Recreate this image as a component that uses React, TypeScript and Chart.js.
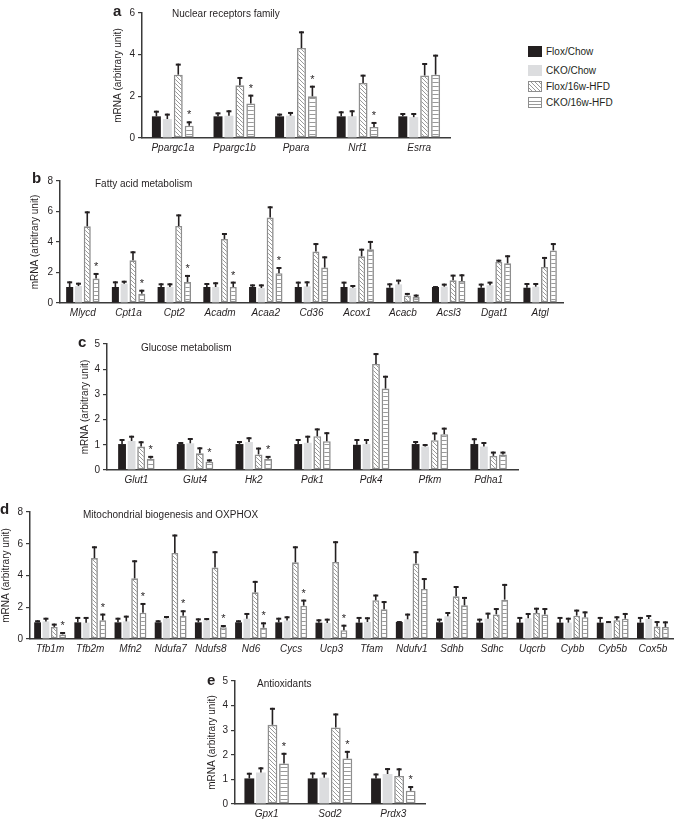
import React, { useEffect, useRef } from "react";
import { Chart, registerables } from "chart.js";
Chart.register(...registerables);

const FONT = '"Liberation Sans", Arial, Helvetica, sans-serif';
const INK = "#231f20";
const AXIS = "#3a3a3a";
const GRAY_FILL = "#dcdddf";
const PAT_GRAY = "#8e8e8e";
const LINE_GRAY = "#9a9a9a";

const seriesLabels = ["Flox/Chow", "CKO/Chow", "Flox/16w-HFD", "CKO/16w-HFD"];
const yAxisTitle = "mRNA (arbitrary unit)";

// ---- Panel a: Nuclear receptors family
const aCategories = ["Ppargc1a", "Ppargc1b", "Ppara", "Nrf1", "Esrra"];
const aFloxChow = [1.04, 1.04, 1.04, 1.04, 1.04];
const aFloxChowSem = [0.27, 0.19, 0.13, 0.24, 0.16];
const aCkoChow = [0.91, 1.07, 1.07, 1.05, 1.0];
const aCkoChowSem = [0.26, 0.26, 0.18, 0.28, 0.2];
const aFloxHfd = [3.04, 2.53, 4.32, 2.64, 3.0];
const aFloxHfdSem = [0.53, 0.4, 0.8, 0.4, 0.6];
const aCkoHfd = [0.59, 1.66, 2.0, 0.53, 3.04];
const aCkoHfdSem = [0.21, 0.42, 0.51, 0.24, 0.96];
const aStars = [1, 1, 1, 1, 0];

// ---- Panel b: Fatty acid metabolism
const bCategories = ["Mlycd", "Cpt1a", "Cpt2", "Acadm", "Acaa2", "Cd36", "Acox1", "Acacb", "Acsl3", "Dgat1", "Atgl"];
const bFloxChow = [1.05, 1.05, 1.05, 1.05, 1.05, 1.05, 1.05, 1.0, 1.05, 1.0, 1.0];
const bFloxChowSem = [0.37, 0.37, 0.24, 0.26, 0.17, 0.35, 0.35, 0.29, 0.06, 0.27, 0.31];
const bCkoChow = [1.11, 1.27, 1.05, 1.05, 0.98, 1.09, 1.0, 1.22, 1.07, 1.16, 1.07];
const bCkoChowSem = [0.22, 0.19, 0.24, 0.31, 0.24, 0.33, 0.18, 0.31, 0.2, 0.24, 0.24];
const bFloxHfd = [5.03, 2.8, 5.05, 4.2, 5.6, 3.37, 3.06, 0.5, 1.49, 2.69, 2.36];
const bFloxHfdSem = [0.98, 0.59, 0.76, 0.39, 0.74, 0.56, 0.5, 0.16, 0.37, 0.15, 0.66];
const bCkoHfd = [1.6, 0.61, 1.38, 1.05, 1.95, 2.32, 3.52, 0.39, 1.44, 2.6, 3.45];
const bCkoHfdSem = [0.37, 0.26, 0.46, 0.35, 0.41, 0.74, 0.55, 0.16, 0.44, 0.53, 0.48];
const bStars = [1, 1, 1, 1, 1, 0, 0, 0, 0, 0, 0];

// ---- Panel c: Glucose metabolism
const cCategories = ["Glut1", "Glut4", "Hk2", "Pdk1", "Pdk4", "Pfkm", "Pdha1"];
const cFloxChow = [1.03, 1.03, 1.03, 1.03, 1.0, 1.03, 1.03];
const cFloxChowSem = [0.2, 0.08, 0.12, 0.2, 0.23, 0.12, 0.23];
const cCkoChow = [1.15, 1.06, 1.11, 1.08, 1.03, 0.93, 0.93];
const cCkoChowSem = [0.21, 0.21, 0.19, 0.28, 0.2, 0.1, 0.18];
const cFloxHfd = [0.93, 0.66, 0.62, 1.34, 4.21, 1.18, 0.56];
const cFloxHfdSem = [0.21, 0.24, 0.27, 0.31, 0.43, 0.31, 0.17];
const cCkoHfd = [0.45, 0.33, 0.45, 1.14, 3.23, 1.42, 0.62];
const cCkoHfdSem = [0.11, 0.09, 0.11, 0.36, 0.51, 0.26, 0.11];
const cStars = [1, 1, 1, 0, 0, 0, 0];

// ---- Panel d: Mitochondrial biogenesis and OXPHOX
const dCategories = ["Tfb1m", "Tfb2m", "Mfn2", "Ndufa7", "Ndufs8", "Nd6", "Cycs", "Ucp3", "Tfam", "Ndufv1", "Sdhb", "Sdhc", "Uqcrb", "Cybb", "Cyb5b", "Cox5b"];
const dFloxChow = [1.05, 1.05, 1.05, 1.05, 1.05, 1.05, 1.05, 1.03, 1.03, 1.07, 1.05, 1.03, 1.03, 1.03, 1.03, 1.03];
const dFloxChowSem = [0.13, 0.34, 0.29, 0.13, 0.25, 0.13, 0.29, 0.21, 0.36, 0.06, 0.23, 0.25, 0.36, 0.36, 0.36, 0.36];
const dCkoChow = [1.11, 1.03, 1.11, 1.3, 1.18, 1.28, 1.16, 1.01, 1.07, 1.24, 1.43, 1.28, 1.3, 1.03, 1.01, 1.26];
const dCkoChowSem = [0.23, 0.36, 0.36, 0.15, 0.14, 0.36, 0.27, 0.27, 0.3, 0.36, 0.27, 0.38, 0.34, 0.31, 0.12, 0.25];
const dFloxHfd = [0.76, 5.1, 3.82, 5.42, 4.5, 2.94, 4.83, 4.85, 2.44, 4.75, 2.69, 1.55, 1.64, 1.47, 1.18, 0.78];
const dFloxHfdSem = [0.21, 0.74, 1.14, 1.16, 1.03, 0.72, 1.01, 1.31, 0.36, 0.78, 0.65, 0.4, 0.33, 0.38, 0.25, 0.35];
const dCkoHfd = [0.29, 1.18, 1.66, 1.47, 0.74, 0.71, 2.1, 0.55, 1.87, 3.15, 2.12, 2.48, 1.55, 1.37, 1.28, 0.76];
const dCkoHfdSem = [0.15, 0.42, 0.61, 0.34, 0.14, 0.34, 0.38, 0.35, 0.52, 0.69, 0.53, 0.99, 0.4, 0.37, 0.36, 0.35];
const dStars = [1, 1, 1, 1, 1, 1, 1, 1, 0, 0, 0, 0, 0, 0, 0, 0];

// ---- Panel e: Antioxidants
const eCategories = ["Gpx1", "Sod2", "Prdx3"];
const eFloxChow = [1.04, 1.04, 1.04];
const eFloxChowSem = [0.23, 0.24, 0.2];
const eCkoChow = [1.28, 1.07, 1.22];
const eCkoChowSem = [0.21, 0.21, 0.24];
const eFloxHfd = [3.22, 3.11, 1.14];
const eFloxHfdSem = [0.69, 0.57, 0.31];
const eCkoHfd = [1.65, 1.85, 0.54];
const eCkoHfdSem = [0.43, 0.31, 0.19];
const eStars = [1, 1, 1];

function makePattern(ctx: CanvasRenderingContext2D, kind: "diag" | "horiz") {
  const c = document.createElement("canvas");
  const s = 4;
  c.width = s;
  c.height = s;
  const g = c.getContext("2d")!;
  g.fillStyle = "#ffffff";
  g.fillRect(0, 0, s, s);
  g.strokeStyle = LINE_GRAY;
  g.lineWidth = 1;
  g.beginPath();
  if (kind === "diag") {
    g.moveTo(-1, -1);
    g.lineTo(s + 1, s + 1);
    g.moveTo(-1, s - 1);
    g.lineTo(1, s + 1);
    g.moveTo(s - 1, -1);
    g.lineTo(s + 1, 1);
  } else {
    g.moveTo(0, 2.5);
    g.lineTo(s, 2.5);
  }
  g.stroke();
  return ctx.createPattern(c, "repeat");
}

const errorBarPlugin = {
  id: "errorBars",
  afterDatasetsDraw(chart: any) {
    const ctx = chart.ctx;
    const yScale = chart.scales.y;
    ctx.save();
    ctx.strokeStyle = INK;
    ctx.fillStyle = INK;
    chart.data.datasets.forEach((ds: any, di: number) => {
      const meta = chart.getDatasetMeta(di);
      meta.data.forEach((bar: any, i: number) => {
        const v = ds.data[i];
        const e = ds.sem[i];
        const top = yScale.getPixelForValue(v + e);
        ctx.lineWidth = 1.6;
        ctx.beginPath();
        ctx.moveTo(bar.x, bar.y);
        ctx.lineTo(bar.x, top);
        ctx.stroke();
        ctx.lineWidth = 2;
        ctx.beginPath();
        ctx.moveTo(bar.x - 2.5, top + 1);
        ctx.lineTo(bar.x + 2.5, top + 1);
        ctx.stroke();
        if (ds.stars && ds.stars[i]) {
          ctx.font = `11px ${FONT}`;
          ctx.textAlign = "center";
          ctx.textBaseline = "alphabetic";
          ctx.fillText("*", bar.x, top - 3);
        }
      });
    });
    ctx.restore();
  },
};

type PanelProps = {
  left: number;
  top: number;
  width: number;
  height: number;
  categories: string[];
  series: number[][];
  sems: number[][];
  stars: number[];
  max: number;
  step: number;
  yWidth: number;
  padTop: number;
  padRight: number;
  xHeight: number;
  titlePad: number;
  catPct: number;
  barPct: number;
};

function Panel(p: PanelProps) {
  const ref = useRef<HTMLCanvasElement>(null);
  useEffect(() => {
    const canvas = ref.current!;
    const ctx = canvas.getContext("2d")!;
    const diag = makePattern(ctx, "diag");
    const horiz = makePattern(ctx, "horiz");
    const fills = [INK, GRAY_FILL, diag, horiz];
    const datasets = seriesLabels.map((label, k) => ({
      label,
      data: p.series[k],
      sem: p.sems[k],
      stars: k === 3 ? p.stars : null,
      backgroundColor: fills[k],
      borderColor: k >= 2 ? PAT_GRAY : fills[k],
      borderWidth: k >= 2 ? 1.6 : 0,
      borderSkipped: false,
      categoryPercentage: p.catPct,
      barPercentage: p.barPct,
    }));
    const chart = new Chart(ctx, {
      type: "bar",
      data: { labels: p.categories, datasets: datasets as any },
      options: {
        responsive: false,
        animation: false,
        layout: { padding: { top: p.padTop, right: p.padRight, left: 0, bottom: 0 } },
        plugins: { legend: { display: false }, tooltip: { enabled: false }, title: { display: false } },
        scales: {
          x: {
            grid: { display: false, drawTicks: false },
            border: { display: true, color: AXIS, width: 1.5 },
            ticks: {
              font: { family: FONT, size: 10, style: "italic" },
              color: INK,
              padding: 4,
              maxRotation: 0,
              autoSkip: false,
            },
            afterFit(s: any) {
              s.height = p.xHeight;
            },
          },
          y: {
            min: 0,
            max: p.max,
            ticks: { stepSize: p.step, font: { family: FONT, size: 10 }, color: INK, padding: 3 },
            grid: {
              display: true,
              drawOnChartArea: false,
              drawTicks: true,
              tickLength: 4,
              color: AXIS,
              lineWidth: 1.2,
            },
            border: { display: true, color: AXIS, width: 1.5 },
            title: {
              display: true,
              text: yAxisTitle,
              font: { family: FONT, size: 10 },
              color: INK,
              padding: { top: p.titlePad, bottom: 0 },
            },
            afterFit(s: any) {
              s.width = p.yWidth;
            },
          },
        },
      } as any,
      plugins: [errorBarPlugin as any],
    });
    return () => chart.destroy();
  }, []);
  return (
    <canvas
      ref={ref}
      width={p.width}
      height={p.height}
      style={{ position: "absolute", left: p.left, top: p.top, width: p.width, height: p.height }}
    />
  );
}

const textStyle: React.CSSProperties = {
  position: "absolute",
  fontFamily: FONT,
  fontSize: 10,
  lineHeight: "12px",
  color: INK,
  whiteSpace: "nowrap",
};
const letterStyle: React.CSSProperties = {
  position: "absolute",
  fontFamily: FONT,
  fontSize: 15,
  fontWeight: "bold",
  lineHeight: "17px",
  color: INK,
};

function LegendBox({ kind }: { kind: number }) {
  const base: React.CSSProperties = { position: "absolute", left: 0, top: 0, width: 14, height: 11, boxSizing: "border-box" };
  if (kind === 0) return <div style={{ ...base, background: INK }} />;
  if (kind === 1) return <div style={{ ...base, background: GRAY_FILL }} />;
  if (kind === 2)
    return (
      <div
        style={{
          ...base,
          border: `1px solid ${PAT_GRAY}`,
          background: `repeating-linear-gradient(45deg, #fff 0px, #fff 1.8px, ${LINE_GRAY} 1.8px, ${LINE_GRAY} 2.8px)`,
        }}
      />
    );
  return (
    <div
      style={{
        ...base,
        border: `1px solid ${PAT_GRAY}`,
        background: `repeating-linear-gradient(180deg, #fff 0px, #fff 2.5px, ${LINE_GRAY} 2.5px, ${LINE_GRAY} 3.5px)`,
      }}
    />
  );
}

const legendTops = [46, 65, 81, 97];

export default function App() {
  return (
    <div style={{ position: "absolute", left: 0, top: 0, width: 675, height: 819, background: "#fff", overflow: "hidden" }}>
      <Panel
        left={100} top={0} width={360} height={160}
        categories={aCategories}
        series={[aFloxChow, aCkoChow, aFloxHfd, aCkoHfd]}
        sems={[aFloxChowSem, aCkoChowSem, aFloxHfdSem, aCkoHfdSem]}
        stars={aStars}
        max={6} step={2}
        yWidth={42} padTop={13} padRight={10} xHeight={22} titlePad={12}
        catPct={0.71} barPct={0.82}
      />
      <Panel
        left={20} top={165} width={553} height={160}
        categories={bCategories}
        series={[bFloxChow, bCkoChow, bFloxHfd, bCkoHfd]}
        sems={[bFloxChowSem, bCkoChowSem, bFloxHfdSem, bCkoHfdSem]}
        stars={bStars}
        max={8} step={2}
        yWidth={40} padTop={16} padRight={10} xHeight={22} titlePad={9}
        catPct={0.77} barPct={0.8}
      />
      <Panel
        left={65} top={330} width={463} height={162}
        categories={cCategories}
        series={[cFloxChow, cCkoChow, cFloxHfd, cCkoHfd]}
        sems={[cFloxChowSem, cCkoChowSem, cFloxHfdSem, cCkoHfdSem]}
        stars={cStars}
        max={5} step={1}
        yWidth={42} padTop={14} padRight={10} xHeight={22} titlePad={14}
        catPct={0.65} barPct={0.82}
      />
      <Panel
        left={0} top={495} width={675} height={166}
        categories={dCategories}
        series={[dFloxChow, dCkoChow, dFloxHfd, dCkoHfd]}
        sems={[dFloxChowSem, dCkoChowSem, dFloxHfdSem, dCkoHfdSem]}
        stars={dStars}
        max={8} step={2}
        yWidth={30} padTop={17} padRight={2} xHeight={22} titlePad={0}
        catPct={0.83} barPct={0.82}
      />
      <Panel
        left={195} top={665} width={240} height={154}
        categories={eCategories}
        series={[eFloxChow, eCkoChow, eFloxHfd, eCkoHfd]}
        sems={[eFloxChowSem, eCkoChowSem, eFloxHfdSem, eCkoHfdSem]}
        stars={eStars}
        max={5} step={1}
        yWidth={40} padTop={16} padRight={10} xHeight={15} titlePad={11}
        catPct={0.73} barPct={0.85}
      />

      <div style={{ ...letterStyle, left: 113, top: 2 }}>a</div>
      <div style={{ ...letterStyle, left: 32, top: 169 }}>b</div>
      <div style={{ ...letterStyle, left: 78, top: 333 }}>c</div>
      <div style={{ ...letterStyle, left: 0, top: 500 }}>d</div>
      <div style={{ ...letterStyle, left: 207, top: 671 }}>e</div>

      <div style={{ ...textStyle, left: 172, top: 8 }}>Nuclear receptors family</div>
      <div style={{ ...textStyle, left: 95, top: 178 }}>Fatty acid metabolism</div>
      <div style={{ ...textStyle, left: 141, top: 342 }}>Glucose metabolism</div>
      <div style={{ ...textStyle, left: 83, top: 509 }}>Mitochondrial biogenesis and OXPHOX</div>
      <div style={{ ...textStyle, left: 257, top: 678 }}>Antioxidants</div>

      {seriesLabels.map((label, k) => (
        <div key={label} style={{ position: "absolute", left: 528, top: legendTops[k], width: 120, height: 12 }}>
          <LegendBox kind={k} />
          <div style={{ ...textStyle, left: 18, top: -0.5 }}>{label}</div>
        </div>
      ))}
    </div>
  );
}
